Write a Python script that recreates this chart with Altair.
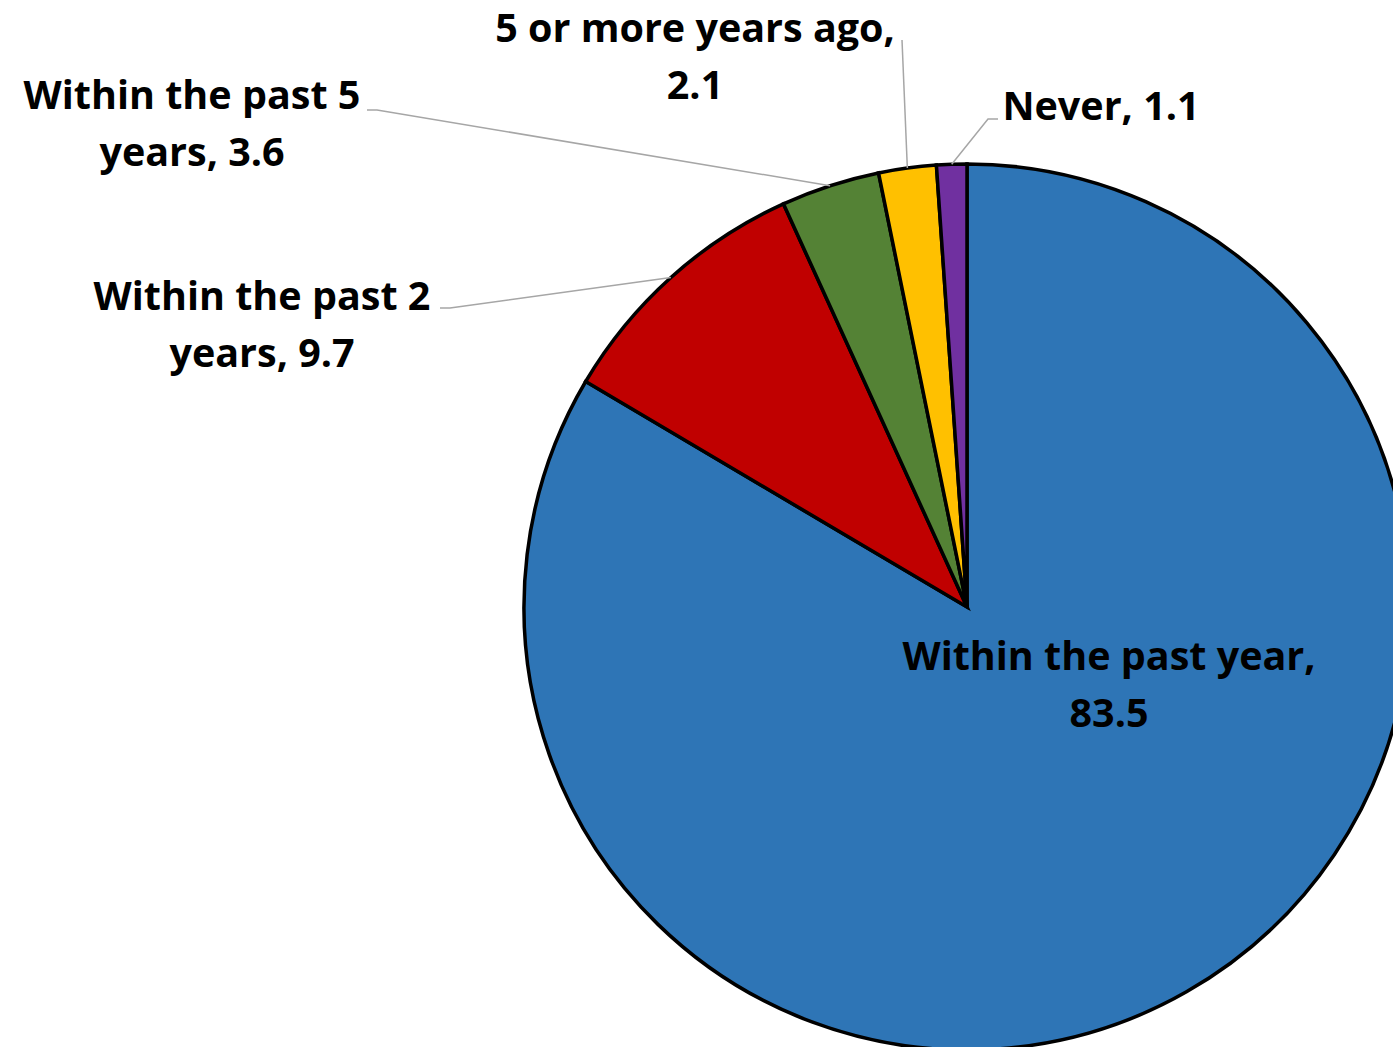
import math
import altair as alt
import pandas as pd

# Share of respondents by time since last visit (percent)
categories = [
    "Within the past year",
    "Within the past 2 years",
    "Within the past 5 years",
    "5 or more years ago",
    "Never",
]
values = [83.5, 9.7, 3.6, 2.1, 1.1]
colors = ["#2E75B6", "#C00000", "#548235", "#FFC000", "#7030A0"]

# How each label wraps: text before the value, and the separator before it
label_heads = [
    "Within the past year",
    "Within the past 2\nyears",
    "Within the past 5\nyears",
    "5 or more years ago",
    "Never",
]
label_seps = [",\n", ", ", ", ", ",\n", ", "]

# Label placement (centre x, first baseline y) and leader-line elbows
label_x = [1109, 262, 192, 695, 1101]
label_y = [670, 310, 109, 42, 120]
leader_start = [None, (440, 308), (367, 110), (902, 40), (998, 119)]
leader_elbow = [None, (450, 308), (377, 110), (902, 40), (988, 119)]

W, H = 1393, 1047
CX, CY, R = 967, 607, 443

pie_df = pd.DataFrame({
    "category": categories,
    "value": values,
    "order": list(range(len(values))),
})

color_scale = alt.Scale(domain=categories, range=colors)

pie = alt.Chart(pie_df).mark_arc(
    radius=R, stroke="black", strokeWidth=3.5, strokeJoin="miter"
).encode(
    theta=alt.Theta("value:Q", stack=True),
    order=alt.Order("order:Q"),
    color=alt.Color("category:N", scale=color_scale, legend=None),
    x=alt.value(CX),
    y=alt.value(CY),
)

# Label texts and leader lines (leaders run to the middle of each slice's rim)
total = sum(values)
labels_rows = []
leader_rows = []
cum = 0.0
for i, (cat, v) in enumerate(zip(categories, values)):
    mid = (cum + v / 2) / total * 2 * math.pi
    cum += v
    labels_rows.append({
        "category": cat,
        "text": f"{label_heads[i]}{label_seps[i]}{v:.1f}",
        "lx": label_x[i],
        "ly": label_y[i],
    })
    if leader_start[i] is not None:
        rim = (CX + R * math.sin(mid), CY - R * math.cos(mid))
        for step, (px, py) in enumerate([leader_start[i], leader_elbow[i], rim]):
            leader_rows.append({"category": cat, "step": step, "px": px, "py": py})

labels_df = pd.DataFrame(labels_rows)
leader_df = pd.DataFrame(leader_rows)

leaders = alt.Chart(leader_df).mark_line(
    color="#A6A6A6", strokeWidth=1.5
).encode(
    x=alt.X("px:Q", scale=None),
    y=alt.Y("py:Q", scale=None),
    detail="category:N",
    order="step:Q",
)

texts = alt.Chart(labels_df).mark_text(
    font="Open Sans",
    fontWeight="bold",
    fontSize=39.5,
    lineHeight=57,
    lineBreak="\n",
    align="center",
    baseline="alphabetic",
    color="black",
).encode(
    x=alt.X("lx:Q", scale=None),
    y=alt.Y("ly:Q", scale=None),
    text="text:N",
)

chart = alt.layer(pie, leaders, texts).properties(
    width=W,
    height=H,
    padding=0,
    autosize=alt.AutoSizeParams(type="none"),
    background="white",
).configure_view(stroke=None)

chart.save("out.html", embed_options={"renderer": "svg", "actions": False})
